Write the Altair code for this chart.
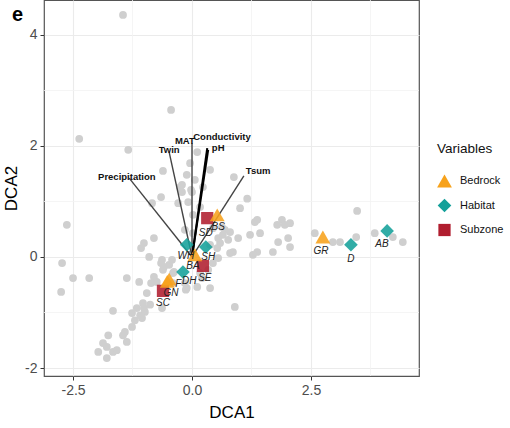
import altair as alt
import pandas as pd

# ---------------- data ----------------
gray_x = [-1.45, -0.44, -2.37, -1.34, -0.61, -0.11, -0.25, -0.65, -0.84, 0.11,
          0.88, 1.16, 1.37, 1.89, 0.38, 1.01, 3.47, -0.04, 0.06, -0.21,
          0.23, 0.00, -0.08, 0.17, 0.02, -0.29, -0.15, 0.02, -0.21, 0.44,
          0.63, 0.80, 0.76, 0.59, 0.97, 1.22, 1.32, 1.43, 1.79, 2.06,
          1.81, 2.02, 2.06, 1.37, 1.28, 1.70, 0.86, 0.53, 0.55, 0.44,
          0.34, 0.17, -0.11, 0.38, 0.90, 0.69, 0.55, 0.38, 0.80, 0.21,
          0.11, -0.15, -0.40, 2.58, 2.96, 3.11, 3.45, 3.84, 4.22, 4.43,
          -2.63, -2.73, -2.50, -2.16, -2.75, -1.37, -1.11, -1.66, -0.80, -1.01,
          -1.07, -0.90, -0.65, -0.59, -0.48, -0.42, -0.80, -0.86, -0.74, -0.38,
          -0.13, -0.95, -1.03, -0.88, -0.63, -1.16, -1.01, -1.26, -1.09, -0.99,
          -1.20, -1.05, -1.26, -1.41, -1.45, -1.37, -1.76, -1.87, -1.97, -1.79,
          -1.66, -1.79, -1.58, -0.61, -0.40, -0.63, 0.65, 1.95, -0.02]
gray_y = [4.36, 2.65, 2.13, 1.93, 1.55, 1.48, 1.26, 1.08, 0.97, 1.89,
          1.44, 1.05, 0.67, 0.67, 1.57, 0.88, 0.83, 1.69, 1.39, 1.30,
          1.26, 1.17, 0.99, 0.90, 0.76, 0.97, 0.49, 0.43, 1.17, 0.52,
          0.54, 0.45, 0.31, 0.25, 0.34, 0.40, 0.63, 0.43, 0.58, 0.61,
          0.27, 0.34, 0.18, 0.09, 0.04, 0.09, 0.09, 0.16, -0.02, -0.11,
          -0.23, -0.29, -0.56, -0.56, -0.90, 0.49, 0.34, 0.22, 0.07, -0.38,
          -0.54, -0.47, -0.29, 0.43, 0.27, 0.27, 0.36, 0.43, 0.36, 0.27,
          0.58, -0.11, -0.38, -0.38, -0.63, -0.38, -0.45, -0.97, 0.34, 0.25,
          0.16, 0.00, -0.11, -0.18, -0.14, -0.05, -0.36, -0.47, -0.45, -0.27,
          -0.59, -0.65, -0.83, -0.86, -0.92, -0.92, -0.92, -1.01, -1.05, -0.99,
          -1.14, -1.10, -1.26, -1.35, -1.41, -1.53, -1.41, -1.55, -1.71, -1.62,
          -1.71, -1.82, -1.68, -0.23, -0.47, -0.05, 0.40, 0.58, 1.21]

vec_names = ["Precipitation", "Twin", "MAT", "Conductivity", "pH", "Tsum"]
vec_x = [-1.32, -0.48, 0.00, 0.32, 0.34, 1.09]
vec_y = [1.42, 1.89, 2.05, 1.96, 1.93, 1.46]
vec_label_x = [-1.37, -0.48, -0.15, 0.63, 0.55, 1.39]
vec_label_y = [1.44, 1.93, 2.09, 2.16, 1.96, 1.55]

site_names = ["SD", "SE", "SC", "WH", "SH", "DH", "D", "AB", "BS", "BA", "F", "GN", "GR"]
site_type = ["Subzone"] * 3 + ["Habitat"] * 5 + ["Bedrock"] * 5
site_x = [0.32, 0.23, -0.61, -0.11, 0.29, -0.19, 3.34, 4.10, 0.53, 0.06, -0.48, -0.52, 2.75]
site_y = [0.70, -0.16, -0.61, 0.22, 0.18, -0.27, 0.22, 0.47, 0.76, 0.04, -0.40, -0.44, 0.36]
site_label_x = [0.29, 0.27, -0.61, -0.13, 0.34, -0.06, 3.34, 3.99, 0.55, 0.02, -0.29, -0.44, 2.71]
site_label_y = [0.43, -0.38, -0.83, 0.02, 0.00, -0.43, -0.04, 0.23, 0.54, -0.16, -0.49, -0.65, 0.11]

types = ["Bedrock", "Habitat", "Subzone"]
type_colors = ["#F7A21B", "#14A09A", "#B01E2F"]
type_shapes = ["triangle-up", "diamond", "square"]

x_ticks = [-2.5, 0, 2.5]
y_ticks = [-2, 0, 2, 4]
x_minor = [-1.25, 1.25, 3.75]
y_minor = [-1, 1, 3]

# ---------------- tables ----------------
gray_df = pd.DataFrame({"x": gray_x, "y": gray_y})
vec_df = pd.DataFrame({"name": vec_names, "ex": vec_x, "ey": vec_y,
                       "lx": vec_label_x, "ly": vec_label_y})
vec_df["ox"] = 0.0
vec_df["oy"] = 0.0
site_df = pd.DataFrame({"name": site_names, "type": site_type, "x": site_x, "y": site_y,
                        "lx": site_label_x, "ly": site_label_y})
xminor_df = pd.DataFrame({"v": x_minor})
yminor_df = pd.DataFrame({"v": y_minor})

FONT = "Liberation Sans"
xs = alt.Scale(domain=[-3.11, 4.77], nice=False, zero=False)
ys = alt.Scale(domain=[-2.144, 4.63], nice=False, zero=False)

x_axis = alt.Axis(values=x_ticks, title="DCA1",
                  labelExpr="datum.value < 0 ? '-' + format(-datum.value, '.1f') : format(datum.value, '.1f')",
                  labelPadding=3, titlePadding=7)
y_axis = alt.Axis(values=y_ticks, title="DCA2",
                  labelExpr="datum.value < 0 ? '-' + format(-datum.value, '.0f') : format(datum.value, '.0f')",
                  labelPadding=3, titlePadding=4)


def X(f):
    return alt.X(f, type="quantitative", scale=xs, axis=x_axis)


def Y(f):
    return alt.Y(f, type="quantitative", scale=ys, axis=y_axis)


minor_v = alt.Chart(xminor_df).mark_rule(color="#F3F3F3", strokeWidth=0.8).encode(x=X("v"))
minor_h = alt.Chart(yminor_df).mark_rule(color="#F3F3F3", strokeWidth=0.8).encode(y=Y("v"))

gray = alt.Chart(gray_df).mark_circle(color="#CFCFCF", opacity=1, size=60).encode(x=X("x"), y=Y("y"))

thick = "datum.name == 'Conductivity' || datum.name == 'pH'"
vectors = alt.Chart(vec_df).mark_rule().encode(
    x=X("ox"), y=Y("oy"), x2="ex", y2="ey",
    strokeWidth=alt.condition(thick, alt.value(2.0), alt.value(1.4)),
    color=alt.condition(thick, alt.value("#000000"), alt.value("#444444")),
)
vec_labels = alt.Chart(vec_df).mark_text(
    font=FONT, fontSize=9.5, fontWeight="bold", color="#111111",
    align="center", baseline="middle").encode(x=X("lx"), y=Y("ly"), text="name")

legend = alt.Legend(title="Variables", orient="none", legendX=393, legendY=142)
markers = alt.Chart(site_df).mark_point(filled=True, opacity=0.88, strokeWidth=0).encode(
    x=X("x"), y=Y("y"),
    color=alt.Color("type:N", scale=alt.Scale(domain=types, range=type_colors), legend=legend),
    shape=alt.Shape("type:N", scale=alt.Scale(domain=types, range=type_shapes), legend=legend),
    size=alt.Size("type:N", scale=alt.Scale(domain=types, range=[220, 150, 150]), legend=None),
)
site_labels = alt.Chart(site_df).mark_text(
    font=FONT, fontSize=10, fontStyle="italic", color="#222222",
    align="center", baseline="middle").encode(x=X("lx"), y=Y("ly"), text="name")

chart = alt.layer(minor_v, minor_h, gray, vectors, markers, vec_labels, site_labels).properties(
    width=375, height=376,
    padding={"left": 44, "top": 0, "right": 91, "bottom": 52},
    autosize=alt.AutoSizeParams(type="none"),
    title=alt.TitleParams(text="e", anchor="start", frame="group", dx=-32, dy=41, offset=0,
                          baseline="alphabetic", fontSize=20, fontWeight="bold", font=FONT,
                          color="#000000"),
).configure_view(
    stroke="#555555", strokeWidth=1.2
).configure_axis(
    domain=False, grid=True, gridColor="#EBEBEB", gridWidth=1.1,
    tickColor="#333333", tickSize=4, tickWidth=1,
    labelColor="#4D4D4D", labelFont=FONT, labelFontSize=14,
    titleFont=FONT, titleFontSize=17, titleFontWeight="normal", titleColor="#000000",
).configure_legend(
    titleFont=FONT, titleFontSize=13.5, titleFontWeight="normal", titleColor="#111111",
    labelFont=FONT, labelFontSize=11, labelColor="#111111",
    symbolSize=170, symbolStrokeWidth=0, symbolOpacity=1,
    rowPadding=11, titlePadding=18, labelOffset=8,
)

chart.save("out.html", embed_options={"renderer": "svg", "actions": False})
